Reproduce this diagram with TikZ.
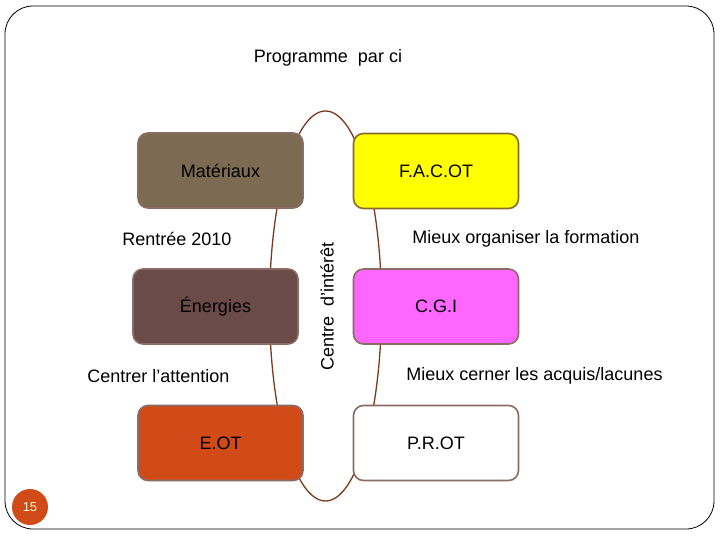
\documentclass[tikz,border=0pt]{standalone}
\usepackage{fontspec}
\setmainfont{Liberation Sans}
\definecolor{matc}{HTML}{7C6A52}
\definecolor{enec}{HTML}{6A4B47}
\definecolor{eotc}{HTML}{D14B19}
\definecolor{cgic}{HTML}{FF66FF}
\definecolor{yelc}{HTML}{FFFF00}
\definecolor{edgec}{HTML}{8A6C64}
\definecolor{yedge}{HTML}{8A6A2A}
\definecolor{ringc}{HTML}{7B3A1E}
\tikzset{
  box/.style={draw=edgec, line width=1.6pt, rounded corners=10pt, minimum width=165pt, minimum height=75pt, inner sep=0pt, font=\fontsize{18}{21}\selectfont},
  lbl/.style={inner sep=0pt, font=\fontsize{18}{21}\selectfont, anchor=center}
}
\begin{document}
\begin{tikzpicture}[x=1pt,y=-1pt]
\useasboundingbox (0,0) rectangle (720,540);
\draw[black, line width=0.8pt, rounded corners=28pt] (5,6) rectangle (714,529);
\node[lbl] (title) at (328,58) {Programme\ \ par ci};
\draw[ringc, line width=1.3pt] (325.5,306) ellipse [x radius=56, y radius=195];
\node[box, fill=matc] (mat) at (220.5,170.5) {Matériaux};
\node[box, fill=yelc, draw=yedge] (facot) at (436,171) {F.A.C.OT};
\node[box, fill=enec] (ene) at (215.5,306.5) {Énergies};
\node[box, fill=cgic] (cgi) at (436,306.5) {C.G.I};
\node[box, fill=eotc] (eot) at (220.5,443) {E.OT};
\node[box, fill=white] (prot) at (436,443) {P.R.OT};
\node[lbl] (rentree) at (177,239) {Rentrée 2010};
\node[lbl] (centrer) at (158.5,376) {Centrer l’attention};
\node[lbl] (mieux1) at (526,239) {Mieux organiser la formation};
\node[lbl] (mieux2) at (534.5,376) {Mieux cerner les acquis/lacunes};
\node[lbl, rotate=90] (ci) at (327,306) {Centre\ \ d’intérêt};
\node[circle, fill=eotc, minimum size=36pt, inner sep=0pt, text=white!85!yellow, font=\fontsize{13}{15}\selectfont] (num) at (30,507) {15};
\end{tikzpicture}
\end{document}
